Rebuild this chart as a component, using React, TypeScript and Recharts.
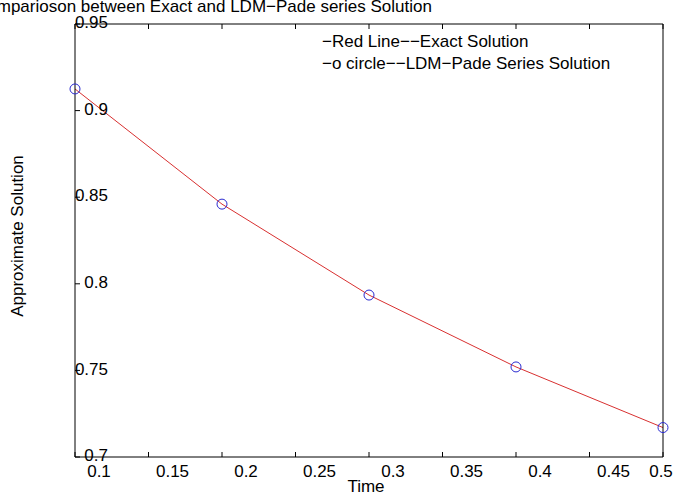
import { ComposedChart, Line, XAxis, YAxis } from "recharts"

// sample times and solution values
const time = [0.1, 0.2, 0.3, 0.4, 0.5]
const exact = [0.9125, 0.846, 0.7935, 0.752, 0.717]
const ldmPade = [0.9125, 0.846, 0.7935, 0.752, 0.717]

const xTicks = [0.1, 0.15, 0.2, 0.25, 0.3, 0.35, 0.4, 0.45, 0.5]
const yTicks = [0.7, 0.75, 0.8, 0.85, 0.9, 0.95]

const title = "Comparioson between Exact and LDM\u2212Pade series Solution"
const legendLines = [
  "\u2212Red Line\u2212\u2212Exact Solution",
  "\u2212o circle\u2212\u2212LDM\u2212Pade Series Solution",
]

const data = time.map((t, i) => ({ t, exact: exact[i], pade: ldmPade[i] }))

const font = "'Liberation Sans', Arial, sans-serif"

const XTick = (props: any) => {
  const { x, y, payload } = props
  const cx = Math.min(x + 24, 661)
  return (
    <text x={cx} y={y} dy="0.36em" textAnchor="middle" fontSize={17} fill="#000" fontFamily={font}>
      {String(payload.value)}
    </text>
  )
}

const YTick = (props: any) => {
  const { x, y, payload } = props
  return (
    <text x={x} y={y - 2} dy="0.36em" textAnchor="end" fontSize={17} fill="#000" fontFamily={font}>
      {String(payload.value)}
    </text>
  )
}

const NoTick = () => <g />

export default function App() {
  return (
    <div style={{ position: "absolute", left: 0, top: 0, width: 676, height: 496, background: "#fff" }}>
      <ComposedChart
        width={676}
        height={496}
        data={data}
        margin={{ top: 23, right: 12, bottom: 38, left: 74 }}
      >
        <XAxis
          dataKey="t"
          type="number"
          domain={[0.1, 0.5]}
          ticks={xTicks}
          height={1}
          tickSize={-5}
          tickMargin={19}
          tick={XTick}
          stroke="#000"
          interval={0}
        />
        <XAxis
          xAxisId="top"
          orientation="top"
          dataKey="t"
          type="number"
          domain={[0.1, 0.5]}
          ticks={xTicks}
          height={1}
          tickSize={-5}
          tick={NoTick}
          stroke="#000"
          interval={0}
        />
        <YAxis
          type="number"
          domain={[0.7, 0.95]}
          ticks={yTicks}
          width={1}
          tickSize={-5}
          tickMargin={-28}
          tick={YTick}
          stroke="#000"
          interval={0}
        />
        <YAxis
          yAxisId="right"
          orientation="right"
          type="number"
          domain={[0.7, 0.95]}
          ticks={yTicks}
          width={1}
          tickSize={-5}
          tick={NoTick}
          stroke="#000"
          interval={0}
        />
        <Line
          dataKey="exact"
          type="linear"
          stroke="#d83030"
          strokeWidth={1}
          dot={false}
          isAnimationActive={false}
        />
        <Line
          dataKey="pade"
          stroke="none"
          dot={{ r: 5, stroke: "#2a2ad0", strokeWidth: 1, fill: "none" }}
          isAnimationActive={false}
        />
      </ComposedChart>
      <svg
        width={676}
        height={496}
        style={{ position: "absolute", left: 0, top: 0, pointerEvents: "none" }}
        fontFamily={font}
        fontSize={17}
      >
        <text x={-25} y={12} fill="#000">{title}</text>
        {legendLines.map((s, i) => (
          <text key={i} x={322} y={47 + i * 22} fill="#000">{s}</text>
        ))}
        <text x={366} y={492} textAnchor="middle" fill="#000">Time</text>
        <text
          x={17}
          y={236}
          textAnchor="middle"
          dominantBaseline="central"
          transform="rotate(-90 17 236)"
          fill="#000"
        >
          Approximate Solution
        </text>
      </svg>
    </div>
  )
}
